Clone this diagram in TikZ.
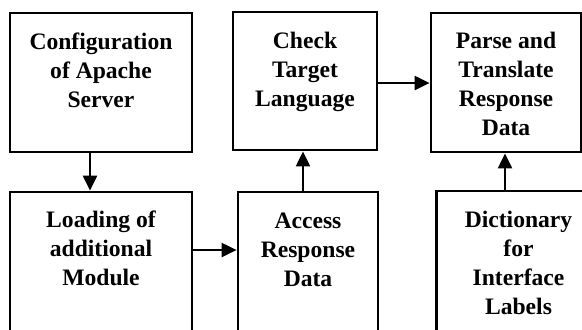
\documentclass[tikz,border=0pt]{standalone}
\usepackage{fontspec}
\setmainfont{Liberation Serif}
\usetikzlibrary{arrows.meta,positioning}

\begin{document}
\begin{tikzpicture}[x=0.5pt, y=0.5pt,
    font=\fontsize{11.8}{14.5}\selectfont\bfseries,
    box/.style={draw, line width=1.4pt, inner sep=0pt},
    txt/.style={align=center, inner sep=0pt},
    arr/.style={line width=1.1pt, -{Triangle[length=7.5pt, width=7pt]}}]
  \clip (0,0) rectangle (582,-329);
  % top row
  \node[box, minimum width=91pt, minimum height=69.5pt] (conf) at (101,-82.5) {};
  \node[box, minimum width=72pt, minimum height=69pt] (check) at (305,-81) {};
  \node[box, minimum width=75pt, minimum height=69.5pt] (parse) at (506,-82.5) {};
  % bottom row, running off the page
  \node[box, minimum width=91pt, minimum height=74pt] (load) at (101,-266) {};
  \node[box, minimum width=70pt, minimum height=74pt] (access) at (308,-266) {};
  \node[box, minimum width=82pt, minimum height=74.5pt] (dict) at (518.5,-265.5) {};
  % texts
  \node[txt, below=10.5pt of conf.north] (conf-t) {Configuration\\of Apache\\Server};
  \node[txt, below=10.5pt of check.north] (check-t) {Check\\Target\\Language};
  \node[txt, below=10pt of parse.north] (parse-t) {Parse and\\Translate\\Response\\Data};
  \node[txt, below=10pt of load.north] (load-t) {Loading of\\additional\\Module};
  \node[txt, below=11pt of access.north] (access-t) {Access\\Response\\Data};
  \node[txt, below=10.5pt of dict.north] (dict-t) {Dictionary\\for\\Interface\\Labels};
  % arrows
  \draw[arr] ([xshift=-5.5pt]conf.south) -- ([xshift=-5.5pt]load.north);
  \draw[arr] ([yshift=8pt]load.east) -- ([yshift=8pt]access.west);
  \draw[arr] ([xshift=-2.5pt]access.north) -- ([xshift=-2.5pt]access.north |- check.south);
  \draw[arr] ([yshift=-1pt]check.east) -- ([yshift=-1pt]check.east -| parse.west);
  \draw[arr] ([xshift=-0.5pt]parse.south |- dict.north) -- ([xshift=-0.5pt]parse.south);
\end{tikzpicture}
\end{document}
